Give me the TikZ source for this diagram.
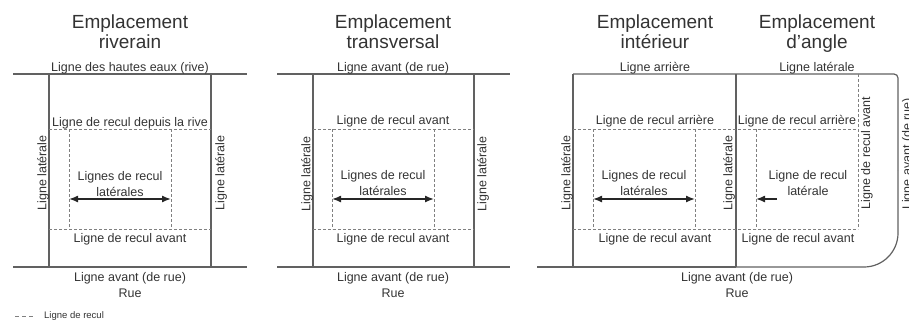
\documentclass[tikz,border=0pt]{standalone}
\usepackage{fontspec}
\setmainfont{Liberation Sans}
\usepackage{tikz}
\usetikzlibrary{arrows.meta}

\begin{document}
\begin{tikzpicture}[x=1pt,y=-1pt,>={Latex[length=9pt,width=7pt]},
	lot/.style={draw=black!62,line width=1.2pt},
	recul/.style={draw=black!50,line width=0.9pt,dash pattern=on 3pt off 2pt},
	fleche/.style={draw=black!85,line width=1.4pt},
	titre/.style={font=\fontsize{19}{20}\selectfont,execute at begin node=\strut,execute at end node=\strut}]
	\tikzstyle{every node}=[font=\fontsize{12.5}{16}\selectfont,text=black!80,inner sep=0pt,align=center]
	\useasboundingbox (0,0) rectangle (909,322);

	% riverain
	\draw[lot] (13,74) -- (247,74) (13,267) -- (247,267) (49,74) -- (49,267) (211,74) -- (211,267);
	\draw[recul] (49,129) -- (211,129) (49,229) -- (211,229) (69,129) -- (69,229) (171,129) -- (171,229);
	\draw
		(130,35)  node(r0) [titre] {Emplacement\\riverain}
		(130,68)  node(r1) {Ligne des hautes eaux (rive)}
		(130,123) node(r2) {Ligne de recul depuis la rive}
		(120,184) node(r3) {Lignes de recul\\latérales}
		(130,239) node(r4) {Ligne de recul avant}
		(130,285) node(r5) {Ligne avant (de rue)\\Rue}
		(43,173)  node(r6) [rotate=90] {Ligne latérale}
		(221,173) node(r7) [rotate=90] {Ligne latérale};
	\coordinate (ra) at (69,199);
	\coordinate (rb) at (171,199);
	\draw [fleche,<->](ra) -- (rb);

	% transversal
	\draw[lot] (277,74) -- (510,74) (277,267) -- (510,267) (313,74) -- (313,267) (474,74) -- (474,267);
	\draw[recul] (313,129) -- (474,129) (313,229) -- (474,229) (332,129) -- (332,229) (434,129) -- (434,229);
	\draw
		(393,35)  node(t0) [titre] {Emplacement\\transversal}
		(393,68)  node(t1) {Ligne avant (de rue)}
		(393,121) node(t2) {Ligne de recul avant}
		(383,183) node(t3) {Lignes de recul\\latérales}
		(393,239) node(t4) {Ligne de recul avant}
		(393,285) node(t5) {Ligne avant (de rue)\\Rue}
		(307,174) node(t6) [rotate=90] {Ligne latérale}
		(483,174) node(t7) [rotate=90] {Ligne latérale};
	\coordinate (ta) at (332,199);
	\coordinate (tb) at (434,199);
	\draw [fleche,<->](ta) -- (tb);

	% interieur et angle
	\draw[lot] (537,267) -- (736,267) (573,74) -- (573,267) (736,74) -- (736,267);
	\draw[lot,rounded corners=4] (573,74) -- (898,74) -- (898,170);
	\draw[lot,rounded corners=34] (736,267) -- (898,267) -- (898,170);
	\draw[recul] (573,129) -- (858,129) (573,229) -- (858,229) (593,129) -- (593,229) (695,129) -- (695,229)
		(756,129) -- (756,229) (858,74) -- (858,229);
	\draw
		(655,35)  node(i0) [titre] {Emplacement\\intérieur}
		(655,68)  node(i1) {Ligne arrière}
		(655,121) node(i2) {Ligne de recul arrière}
		(644,183) node(i3) {Lignes de recul\\latérales}
		(655,239) node(i4) {Ligne de recul avant}
		(567,173) node(i5) [rotate=90] {Ligne latérale}
		(729,173) node(i6) [rotate=90] {Ligne latérale}
		(737,285) node(i7) {Ligne avant (de rue)\\Rue}
		(817,35)  node(a0) [titre] {Emplacement\\d'angle}
		(817,68)  node(a1) {Ligne latérale}
		(797,121) node(a2) {Ligne de recul arrière}
		(808,183) node(a3) {Ligne de recul\\latérale}
		(798,239) node(a4) {Ligne de recul avant}
		(867,153) node(a5) [rotate=90] {Ligne de recul avant}
		(908,154) node(a6) [rotate=90] {Ligne avant (de rue)};
	\coordinate (ia) at (593,199);
	\coordinate (ib) at (695,199);
	\draw [fleche,<->](ia) -- (ib);
	\coordinate (aa) at (777,199);
	\coordinate (ab) at (756,199);
	\draw [fleche,->](aa) -- (ab);

	% legende
	\coordinate (la) at (15,316);
	\coordinate (lb) at (33,316);
	\draw[recul,dash pattern=on 4pt off 3pt] (la) -- (lb);
	\node(l) [anchor=west,font=\fontsize{9.5}{11}\selectfont] at (44,316) {Ligne de recul};
\end{tikzpicture}
\end{document}
